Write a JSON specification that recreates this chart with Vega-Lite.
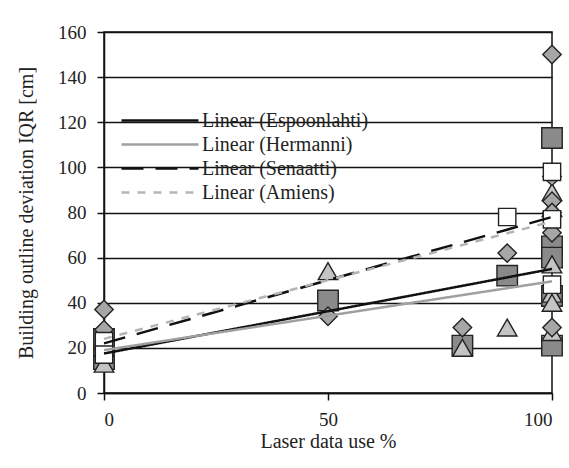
{
  "$schema": "https://vega.github.io/schema/vega-lite/v6.json",
  "autosize": "none",
  "width": 448,
  "height": 361,
  "padding": {"left": 104, "top": 32, "right": 17, "bottom": 75},
  "background": "white",
  "datasets": {
    "points": [
      {"series": "Espoonlahti", "use": 0, "iqr": 24},
      {"series": "Espoonlahti", "use": 0, "iqr": 15},
      {"series": "Espoonlahti", "use": 50, "iqr": 41},
      {"series": "Espoonlahti", "use": 80, "iqr": 21},
      {"series": "Espoonlahti", "use": 90, "iqr": 52},
      {"series": "Espoonlahti", "use": 100, "iqr": 113},
      {"series": "Espoonlahti", "use": 100, "iqr": 65},
      {"series": "Espoonlahti", "use": 100, "iqr": 60},
      {"series": "Espoonlahti", "use": 100, "iqr": 43},
      {"series": "Espoonlahti", "use": 100, "iqr": 21},
      {"series": "Hermanni", "use": 0, "iqr": 13},
      {"series": "Hermanni", "use": 0, "iqr": 20},
      {"series": "Hermanni", "use": 50, "iqr": 54},
      {"series": "Hermanni", "use": 80, "iqr": 20},
      {"series": "Hermanni", "use": 90, "iqr": 29},
      {"series": "Hermanni", "use": 100, "iqr": 89},
      {"series": "Hermanni", "use": 100, "iqr": 82},
      {"series": "Hermanni", "use": 100, "iqr": 57},
      {"series": "Hermanni", "use": 100, "iqr": 44},
      {"series": "Hermanni", "use": 100, "iqr": 40},
      {"series": "Hermanni", "use": 100, "iqr": 27},
      {"series": "Senaatti", "use": 0, "iqr": 37},
      {"series": "Senaatti", "use": 0, "iqr": 28},
      {"series": "Senaatti", "use": 50, "iqr": 34},
      {"series": "Senaatti", "use": 80, "iqr": 29},
      {"series": "Senaatti", "use": 90, "iqr": 62},
      {"series": "Senaatti", "use": 100, "iqr": 150},
      {"series": "Senaatti", "use": 100, "iqr": 96},
      {"series": "Senaatti", "use": 100, "iqr": 85},
      {"series": "Senaatti", "use": 100, "iqr": 80},
      {"series": "Senaatti", "use": 100, "iqr": 71},
      {"series": "Senaatti", "use": 100, "iqr": 29},
      {"series": "Amiens", "use": 0, "iqr": 23},
      {"series": "Amiens", "use": 0, "iqr": 17},
      {"series": "Amiens", "use": 90, "iqr": 78},
      {"series": "Amiens", "use": 100, "iqr": 98},
      {"series": "Amiens", "use": 100, "iqr": 77},
      {"series": "Amiens", "use": 100, "iqr": 48}
    ],
    "trends": [
      {"series": "Linear (Espoonlahti)", "use": 0, "iqr": 17.5},
      {"series": "Linear (Espoonlahti)", "use": 100, "iqr": 55},
      {"series": "Linear (Hermanni)", "use": 0, "iqr": 19},
      {"series": "Linear (Hermanni)", "use": 100, "iqr": 49.5},
      {"series": "Linear (Senaatti)", "use": 0, "iqr": 22},
      {"series": "Linear (Senaatti)", "use": 100, "iqr": 78},
      {"series": "Linear (Amiens)", "use": 0, "iqr": 24},
      {"series": "Linear (Amiens)", "use": 100, "iqr": 76}
    ]
  },
  "config": {
    "font": "Liberation Serif",
    "view": {"stroke": "#111", "strokeWidth": 1.5},
    "axis": {
      "labelFont": "Liberation Serif",
      "titleFont": "Liberation Serif",
      "labelFontSize": 19,
      "titleFontSize": 20,
      "titleFontWeight": "normal",
      "labelColor": "#222",
      "titleColor": "#222",
      "domainColor": "#111",
      "domainWidth": 1.5,
      "tickColor": "#111",
      "tickWidth": 1.5,
      "tickSize": 7
    },
    "legend": {
      "orient": "none",
      "legendX": 10,
      "legendY": -21.6,
      "padding": 6,
      "clipHeight": 23.2,
      "rowPadding": 0,
      "labelFont": "Liberation Serif",
      "labelFontSize": 20,
      "labelColor": "#222",
      "labelLimit": 0
    }
  },
  "layer": [
    {
      "data": {"name": "points"},
      "mark": {"type": "point", "filled": true, "stroke": "#222", "strokeWidth": 1.4, "opacity": 1},
      "encoding": {
        "x": {
          "field": "use", "type": "quantitative",
          "scale": {"domain": [0, 100], "nice": false, "zero": false},
          "axis": {"title": "Laser data use %", "values": [0, 50, 100], "grid": false, "labelPadding": 10, "titlePadding": 2}
        },
        "y": {
          "field": "iqr", "type": "quantitative",
          "scale": {"domain": [0, 160], "nice": false},
          "axis": {"title": "Building outline deviation IQR [cm]", "values": [0, 20, 40, 60, 80, 100, 120, 140, 160], "grid": true, "gridColor": "#111", "gridWidth": 1.5, "gridOpacity": 1, "labelPadding": 11, "titlePadding": 21}
        },
        "shape": {
          "field": "series", "type": "nominal",
          "scale": {"domain": ["Espoonlahti", "Hermanni", "Senaatti", "Amiens"], "range": ["square", "triangle-up", "diamond", "square"]},
          "legend": {
            "title": ["\u00a0\u00a0\u00a0\u00a0\u00a0\u00a0\u00a0\u00a0\u00a0\u00a0\u00a0\u00a0\u00a0\u00a0\u00a0\u00a0\u00a0\u00a0\u00a0\u00a0\u00a0\u00a0\u00a0\u00a0\u00a0\u00a0\u00a0\u00a0\u00a0\u00a0\u00a0\u00a0\u00a0\u00a0\u00a0\u00a0\u00a0\u00a0\u00a0\u00a0\u00a0\u00a0\u00a0\u00a0\u00a0\u00a0\u00a0\u00a0\u00a0\u00a0", "\u00a0", "\u00a0", "\u00a0"],
            "titleOrient": "bottom", "titleFontSize": 20, "titleLineHeight": 23.2, "titlePadding": 3,
            "fillColor": "white", "strokeColor": "#111",
            "symbolSize": 150, "symbolFillColor": "#9a9a9a", "symbolStrokeColor": "#222", "symbolOffset": 32.4, "labelOffset": 66.8
          }
        },
        "fill": {
          "field": "series", "type": "nominal",
          "scale": {"domain": ["Espoonlahti", "Hermanni", "Senaatti", "Amiens"], "range": ["#8a8a8a", "#c4c4c4", "#a6a6a6", "#ffffff"]},
          "legend": null
        },
        "size": {
          "field": "series", "type": "nominal",
          "scale": {"domain": ["Espoonlahti", "Hermanni", "Senaatti", "Amiens"], "range": [420, 300, 250, 120]},
          "legend": null
        }
      }
    },
    {
      "data": {"name": "trends"},
      "mark": {"type": "line", "strokeWidth": 2.5},
      "encoding": {
        "x": {"field": "use", "type": "quantitative"},
        "y": {"field": "iqr", "type": "quantitative"},
        "stroke": {
          "field": "series", "type": "nominal",
          "scale": {"domain": ["Linear (Espoonlahti)", "Linear (Hermanni)", "Linear (Senaatti)", "Linear (Amiens)"], "range": ["#111111", "#a0a0a0", "#111111", "#b4b4b4"]},
          "legend": {"title": ["\u00a0", "\u00a0", "\u00a0", "\u00a0"], "titleOrient": "top", "titleFontSize": 20, "titleLineHeight": 23.2, "titlePadding": 3, "symbolSize": 5929, "symbolStrokeColor": "#111", "symbolStrokeWidth": 2.5, "labelOffset": 2}
        },
        "strokeDash": {
          "field": "series", "type": "nominal",
          "scale": {"domain": ["Linear (Espoonlahti)", "Linear (Hermanni)", "Linear (Senaatti)", "Linear (Amiens)"], "range": [[1, 0], [1, 0], [22, 12], [8, 8]]},
          "legend": {"title": ["\u00a0", "\u00a0", "\u00a0", "\u00a0"], "titleOrient": "top", "titleFontSize": 20, "titleLineHeight": 23.2, "titlePadding": 3, "symbolSize": 5929, "symbolStrokeColor": "#111", "symbolStrokeWidth": 2.5, "labelOffset": 2}
        }
      }
    }
  ]
}
